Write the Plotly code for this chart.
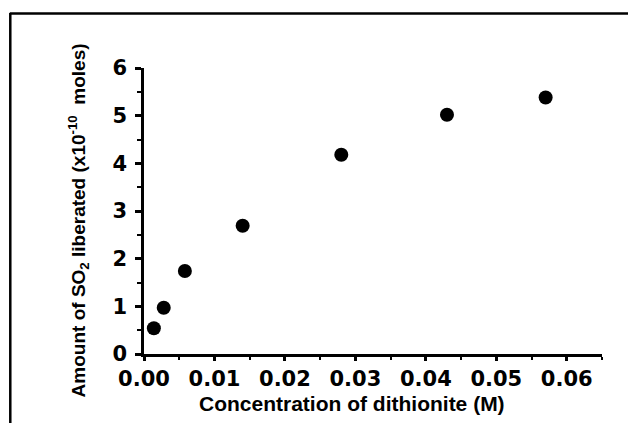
import plotly.graph_objects as go

# Data
conc = [0.0014, 0.0028, 0.0058, 0.014, 0.028, 0.043, 0.057]
so2 = [0.54, 0.97, 1.74, 2.69, 4.18, 5.02, 5.38]

x_ticks = [0.00, 0.01, 0.02, 0.03, 0.04, 0.05, 0.06]
x_ticklabels = ["0.00", "0.01", "0.02", "0.03", "0.04", "0.05", "0.06"]
y_ticks = [0, 1, 2, 3, 4, 5, 6]

W, H = 628, 423
L, R, T, B = 143.5, 25.5, 68, 68.5
pw, ph = W - L - R, H - T - B

def px(xp):
    return (xp - L) / pw

def py(yp):
    return (H - B - yp) / ph

fig = go.Figure()
fig.add_trace(go.Scatter(
    x=conc, y=so2, mode="markers",
    marker=dict(color="black", size=14, line=dict(width=0)),
    showlegend=False, cliponaxis=False,
))

tickfont = dict(family="DejaVu Sans", size=21, color="black", weight="bold")

fig.update_layout(
    width=W, height=H,
    margin=dict(l=L, r=R, t=T, b=B, pad=0),
    paper_bgcolor="white", plot_bgcolor="white",
    xaxis=dict(
        range=[0, 0.065], tickvals=x_ticks, ticktext=x_ticklabels,
        showgrid=False, zeroline=False, showline=True, linecolor="black", linewidth=2.5,
        ticks="outside", ticklen=4, tickwidth=2.5, tickcolor="black",
        minor=dict(dtick=0.005, tick0=0, ticks="outside", ticklen=3, tickwidth=2, tickcolor="black", showgrid=False),
        tickfont=tickfont, ticklabelstandoff=0,
    ),
    yaxis=dict(
        range=[0, 6], tickvals=y_ticks,
        showgrid=False, zeroline=False, showline=True, linecolor="black", linewidth=2.5,
        ticks="outside", ticklen=6, tickwidth=2.5, tickcolor="black",
        minor=dict(dtick=0.5, tick0=0, ticks="outside", ticklen=4, tickwidth=2, tickcolor="black", showgrid=False),
        tickfont=tickfont, ticklabelstandoff=4,
    ),
)

# Axis titles
fig.add_annotation(
    x=px(352), y=py(404), xref="paper", yref="paper",
    text="Concentration of dithionite (M)", showarrow=False,
    font=dict(family="Liberation Sans", size=21, color="black", weight="bold"),
    xanchor="center", yanchor="middle",
)
fig.add_annotation(
    x=px(78), y=py(221), xref="paper", yref="paper",
    text="Amount of SO<sub>2</sub> liberated (x10<sup>-10</sup>&nbsp; moles)",
    showarrow=False, textangle=-90,
    font=dict(family="Liberation Sans", size=19, color="black", weight="bold"),
    xanchor="center", yanchor="middle",
)

# Frame border (top and left edges visible in the reference)
fig.add_shape(type="line", xref="paper", yref="paper",
              x0=px(9), x1=px(640), y0=py(13.5), y1=py(13.5),
              line=dict(color="black", width=2.5))
fig.add_shape(type="line", xref="paper", yref="paper",
              x0=px(9.5), x1=px(9.5), y0=py(13), y1=py(440),
              line=dict(color="black", width=2.5))

fig.write_html("out.html")
